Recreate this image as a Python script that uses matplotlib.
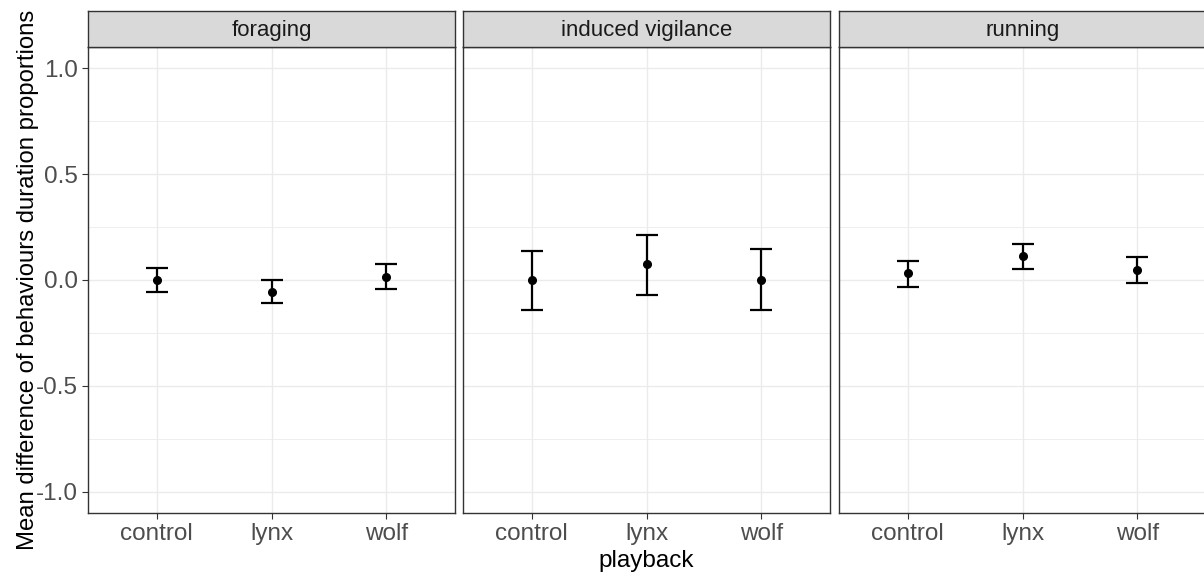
import matplotlib
matplotlib.use("Agg")
import matplotlib.pyplot as plt
from matplotlib.ticker import MultipleLocator
import numpy as np

plt.rcParams['font.family'] = ['Liberation Sans', 'DejaVu Sans']

behaviours = ["foraging", "induced vigilance", "running"]
playbacks = ["control", "lynx", "wolf"]
means = {
    "foraging": [0.0, -0.055, 0.016],
    "induced vigilance": [0.0, 0.074, 0.0],
    "running": [0.032, 0.113, 0.046],
}
upper = {
    "foraging": [0.055, 0.001, 0.074],
    "induced vigilance": [0.138, 0.212, 0.145],
    "running": [0.088, 0.170, 0.107],
}
lower = {
    "foraging": [-0.055, -0.108, -0.041],
    "induced vigilance": [-0.140, -0.071, -0.140],
    "running": [-0.032, 0.050, -0.013],
}
y_ticks = [-1.0, -0.5, 0.0, 0.5, 1.0]

W, H = 1204, 577
fig = plt.figure(figsize=(W / 100, H / 100), dpi=100)
fig.patch.set_facecolor("white")

def px_rect(left, top, width, height):
    return [left / W, 1 - (top + height) / H, width / W, height / H]

lefts = [88, 463, 839]
pw = 367
ptop, pbot = 47, 513
stop = 11
grid_c = "#EBEBEB"
border_c = "#333333"
tick_c = "#4D4D4D"

for i, b in enumerate(behaviours):
    ax = fig.add_axes(px_rect(lefts[i], ptop, pw, pbot - ptop))
    x = np.arange(len(playbacks))
    m = np.array(means[b])
    lo = np.array(lower[b])
    hi = np.array(upper[b])
    ax.errorbar(x, m, yerr=[m - lo, hi - m], fmt="o", color="black",
                ecolor="black", elinewidth=1.6, capsize=8, capthick=1.6,
                markersize=5.5, zorder=3)
    ax.set_xlim(-0.6, 2.6)
    ax.set_ylim(-1.1, 1.1)
    ax.set_xticks(x)
    ax.set_xticklabels(playbacks)
    ax.set_yticks(y_ticks)
    ax.yaxis.set_minor_locator(MultipleLocator(0.25))
    ax.grid(True, which="major", color=grid_c, linewidth=1.0, zorder=0)
    ax.grid(True, which="minor", axis="y", color=grid_c, linewidth=0.6, zorder=0)
    ax.set_axisbelow(True)
    ax.tick_params(axis="both", which="major", colors=border_c, length=4,
                   width=0.8, labelsize=17.5, labelcolor=tick_c, pad=3)
    ax.tick_params(axis="y", which="minor", length=0)
    if i == 0:
        ax.set_yticklabels([f"{v:.1f}" for v in y_ticks])
    else:
        ax.tick_params(axis="y", which="both", left=False, labelleft=False)
    for s in ax.spines.values():
        s.set_color(border_c)
        s.set_linewidth(1.0)

    sax = fig.add_axes(px_rect(lefts[i], stop, pw, ptop - stop))
    sax.set_facecolor("#D9D9D9")
    sax.set_xticks([])
    sax.set_yticks([])
    for s in sax.spines.values():
        s.set_color(border_c)
        s.set_linewidth(1.0)
    sax.text(0.5, 0.45, b, ha="center", va="center", fontsize=16,
             color="#1A1A1A", transform=sax.transAxes)

fig.text(28 / W, 1 - 280 / H, "Mean difference of behaviours duration proportions",
         rotation=90, ha="center", va="center", fontsize=17.2, color="black")
fig.text(646 / W, 1 - 561 / H, "playback", ha="center", va="center",
         fontsize=17.5, color="black")

fig.savefig("out.png", dpi=100, facecolor="white")
